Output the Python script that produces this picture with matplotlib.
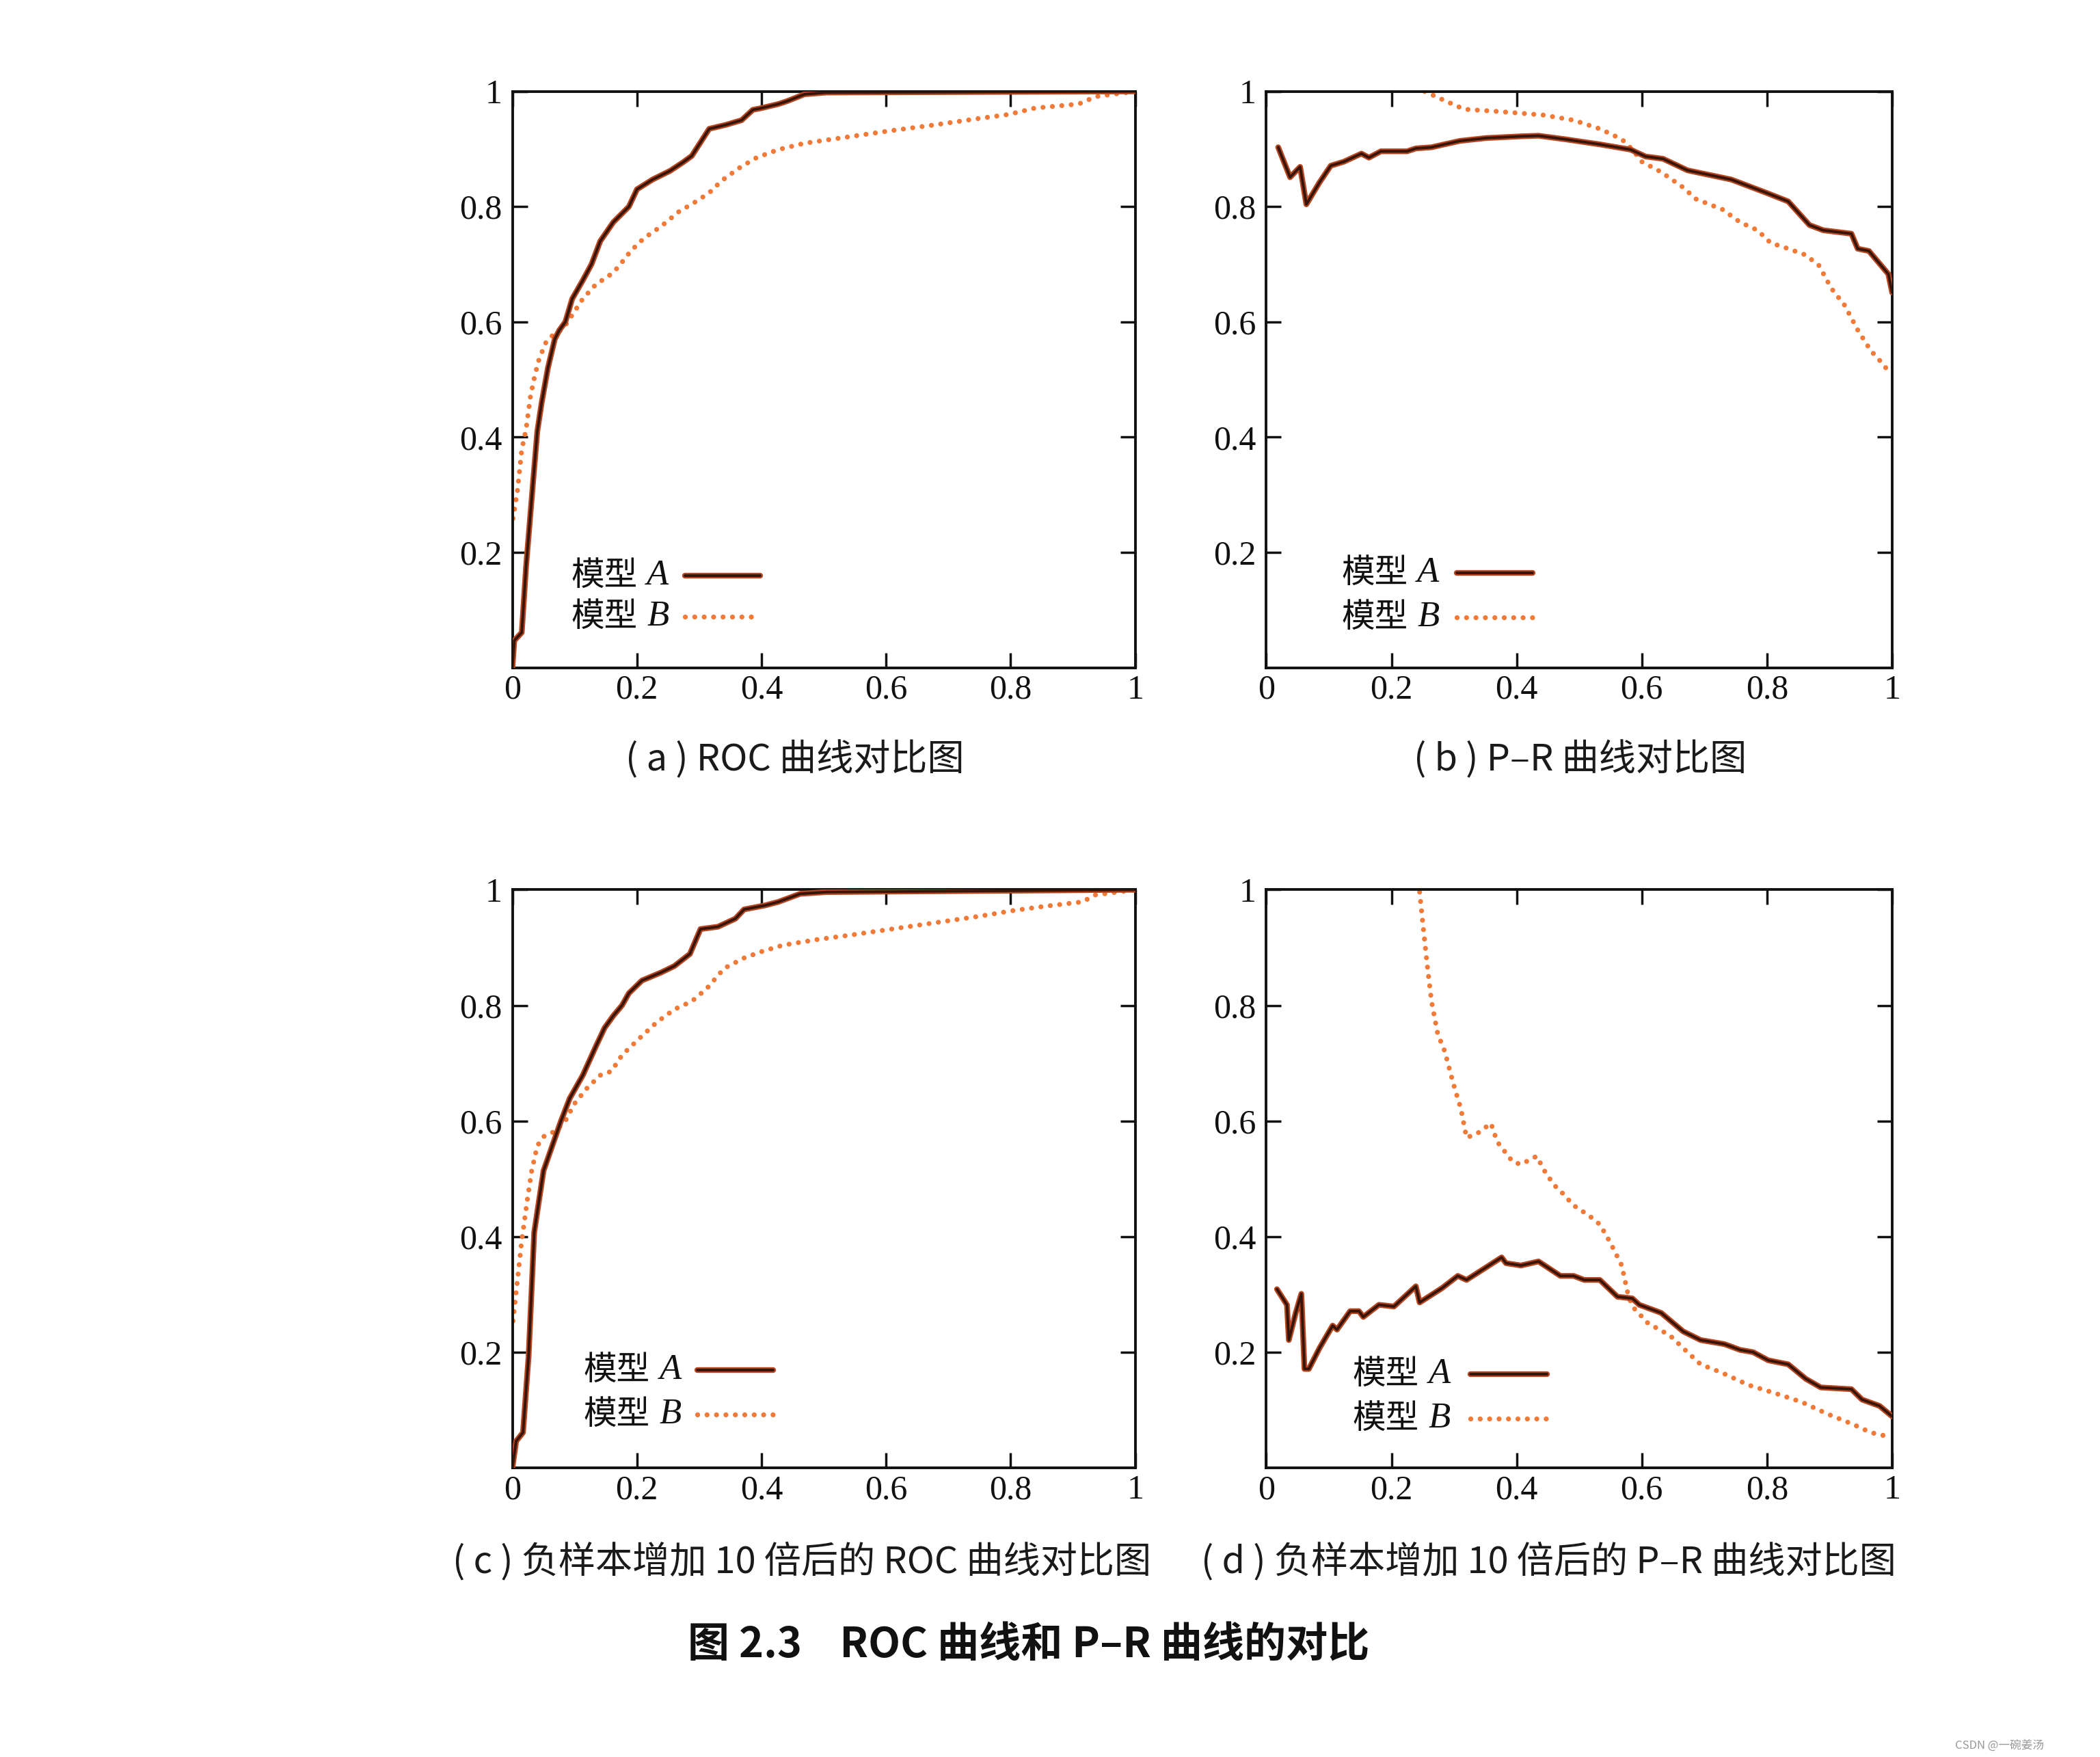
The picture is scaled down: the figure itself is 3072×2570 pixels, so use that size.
import numpy as np
import matplotlib
matplotlib.use("Agg")
import matplotlib.pyplot as plt

### DATA ###
# (a) ROC
roc_a_A_x = [0, 0.003, 0.015, 0.022, 0.033, 0.04, 0.047, 0.057, 0.068, 0.075, 0.085, 0.096, 0.113, 0.127, 0.141,
             0.162, 0.187, 0.2, 0.225, 0.253, 0.274, 0.288, 0.316, 0.343, 0.368, 0.386, 0.4, 0.427, 0.441, 0.469,
             0.504, 1.0]
roc_a_A_y = [0, 0.047, 0.061, 0.176, 0.32, 0.41, 0.46, 0.52, 0.57, 0.585, 0.6, 0.64, 0.672, 0.70, 0.74,
             0.773, 0.80, 0.83, 0.847, 0.862, 0.877, 0.888, 0.935, 0.942, 0.95, 0.968, 0.971, 0.978, 0.983, 0.995,
             0.998, 1.0]
roc_a_B_x = [0.001, 0.008, 0.015, 0.022, 0.029, 0.036, 0.043, 0.054, 0.064, 0.075, 0.085, 0.096, 0.113, 0.134,
             0.155, 0.169, 0.19, 0.211, 0.239, 0.267, 0.295, 0.316, 0.336, 0.364, 0.392, 0.427, 0.469, 0.539,
             0.609, 0.679, 0.749, 0.797, 0.839, 0.909, 0.937, 1.0]
roc_a_B_y = [0.259, 0.306, 0.378, 0.414, 0.471, 0.507, 0.536, 0.565, 0.576, 0.583, 0.594, 0.612, 0.64, 0.665,
             0.68, 0.694, 0.723, 0.745, 0.766, 0.791, 0.809, 0.824, 0.845, 0.867, 0.885, 0.899, 0.91, 0.921,
             0.932, 0.942, 0.953, 0.96, 0.971, 0.978, 0.991, 1.0]

# (b) P-R
pr_b_A_x = [0.019, 0.038, 0.054, 0.064, 0.085, 0.103, 0.124, 0.152, 0.164, 0.183, 0.225, 0.239, 0.264, 0.309,
            0.351, 0.407, 0.435, 0.477, 0.533, 0.582, 0.606, 0.634, 0.673, 0.743, 0.799, 0.834, 0.868, 0.89,
            0.935, 0.945, 0.963, 0.994, 1.0]
pr_b_A_y = [0.903, 0.851, 0.869, 0.804, 0.842, 0.871, 0.878, 0.892, 0.885, 0.896, 0.896, 0.901, 0.903, 0.914,
            0.919, 0.922, 0.923, 0.917, 0.908, 0.899, 0.887, 0.883, 0.863, 0.847, 0.824, 0.809, 0.768, 0.759,
            0.753, 0.727, 0.723, 0.683, 0.651]
pr_b_B_x = [0.253, 0.281, 0.316, 0.372, 0.442, 0.491, 0.533, 0.568, 0.585, 0.6, 0.631, 0.664, 0.687, 0.729,
            0.757, 0.785, 0.806, 0.834, 0.862, 0.883, 0.903, 0.924, 0.945, 0.966, 0.987, 0.998]
pr_b_B_y = [1.0, 0.986, 0.969, 0.965, 0.959, 0.95, 0.935, 0.917, 0.899, 0.878, 0.86, 0.835, 0.813, 0.795,
            0.773, 0.759, 0.737, 0.727, 0.716, 0.698, 0.658, 0.629, 0.586, 0.55, 0.525, 0.507]

# (c) ROC, 10x negatives
roc_c_A_x = [0, 0.006, 0.017, 0.026, 0.035, 0.04, 0.05, 0.064, 0.078, 0.092, 0.113, 0.134, 0.148, 0.162, 0.176,
             0.187, 0.208, 0.239, 0.26, 0.285, 0.302, 0.33, 0.358, 0.372, 0.406, 0.427, 0.462, 0.504, 1.0]
roc_c_A_y = [0, 0.046, 0.061, 0.193, 0.407, 0.443, 0.514, 0.557, 0.6, 0.639, 0.679, 0.729, 0.761, 0.782, 0.8,
             0.821, 0.843, 0.857, 0.868, 0.889, 0.932, 0.936, 0.95, 0.966, 0.973, 0.979, 0.993, 0.996, 1.0]
roc_c_B_x = [0.001, 0.007, 0.015, 0.024, 0.031, 0.04, 0.05, 0.068, 0.085, 0.099, 0.12, 0.141, 0.159, 0.176,
             0.204, 0.232, 0.26, 0.288, 0.312, 0.34, 0.372, 0.4, 0.434, 0.49, 0.539, 0.609, 0.679, 0.749, 0.804,
             0.852, 0.915, 0.936, 1.0]
roc_c_B_y = [0.254, 0.314, 0.393, 0.464, 0.514, 0.557, 0.573, 0.582, 0.6, 0.629, 0.657, 0.679, 0.686, 0.714,
             0.743, 0.771, 0.793, 0.807, 0.829, 0.864, 0.882, 0.893, 0.904, 0.914, 0.921, 0.932, 0.943, 0.954,
             0.964, 0.971, 0.979, 0.991, 1.0]

# (d) P-R, 10x negatives
pr_d_A_x = [0.017, 0.033, 0.036, 0.047, 0.056, 0.061, 0.068, 0.085, 0.106, 0.113, 0.134, 0.148, 0.155, 0.18,
            0.204, 0.239, 0.245, 0.281, 0.306, 0.32, 0.376, 0.383, 0.407, 0.435, 0.47, 0.491, 0.508, 0.533,
            0.561, 0.585, 0.596, 0.631, 0.666, 0.694, 0.732, 0.757, 0.778, 0.802, 0.834, 0.862, 0.886, 0.935,
            0.952, 0.98, 1.0]
pr_d_A_y = [0.309, 0.282, 0.221, 0.268, 0.301, 0.171, 0.171, 0.207, 0.246, 0.239, 0.271, 0.271, 0.261, 0.282,
            0.279, 0.314, 0.286, 0.311, 0.332, 0.325, 0.364, 0.354, 0.35, 0.357, 0.332, 0.332, 0.325, 0.325,
            0.296, 0.293, 0.282, 0.268, 0.236, 0.221, 0.214, 0.204, 0.2, 0.186, 0.179, 0.154, 0.139, 0.136,
            0.118, 0.107, 0.089]
pr_d_B_x = [0.245, 0.25, 0.257, 0.264, 0.274, 0.285, 0.299, 0.311, 0.32, 0.338, 0.359, 0.369, 0.394, 0.407,
            0.432, 0.446, 0.46, 0.47, 0.491, 0.516, 0.533, 0.55, 0.568, 0.578, 0.585, 0.61, 0.645, 0.673, 0.694,
            0.729, 0.771, 0.813, 0.855, 0.897, 0.938, 0.966, 0.994]
pr_d_B_y = [0.996, 0.943, 0.871, 0.807, 0.75, 0.721, 0.664, 0.621, 0.571, 0.579, 0.596, 0.564, 0.529, 0.525,
            0.539, 0.511, 0.489, 0.479, 0.454, 0.436, 0.421, 0.389, 0.35, 0.3, 0.279, 0.25, 0.229, 0.2, 0.179,
            0.164, 0.143, 0.129, 0.114, 0.093, 0.075, 0.061, 0.054]

x_ticks = [0, 0.2, 0.4, 0.6, 0.8, 1]
x_tick_labels = ['0', '0.2', '0.4', '0.6', '0.8', '1']
y_ticks = [0.2, 0.4, 0.6, 0.8, 1]
y_tick_labels = ['0.2', '0.4', '0.6', '0.8', '1']

captions = ['( a ) ROC 曲线对比图', '( b ) P–R 曲线对比图',
            '( c ) 负样本增加 10 倍后的 ROC 曲线对比图', '( d ) 负样本增加 10 倍后的 P–R 曲线对比图']
title = '图 2.3    ROC 曲线和 P–R 曲线的对比'
legend_names = ['模型', '模型']
legend_letters = ['A', 'B']

COLOR_A_EDGE = '#b44622'
COLOR_A_CORE = '#361508'
COLOR_B = '#f07a38'
CJK = ['Noto Sans CJK SC', 'DejaVu Sans']
SERIF = ['Liberation Serif', 'DejaVu Serif']
DOTS = (0, (0.01, 1.9))


def plot_A(ax, x, y, **kw):
    ax.plot(x, y, color=COLOR_A_EDGE, lw=6.0, solid_capstyle='round', solid_joinstyle='round', zorder=3, **kw)
    ax.plot(x, y, color=COLOR_A_CORE, lw=2.8, solid_capstyle='round', solid_joinstyle='round', zorder=4, **kw)


def plot_B(ax, x, y, **kw):
    ax.plot(x, y, color=COLOR_B, lw=5.2, linestyle=DOTS, dash_capstyle='round', zorder=2, **kw)


def draw_legend(ax, tx, lx0, lx1, rows, letter_dx):
    # text on the left, line sample on the right (like the book figure)
    for i, ry in enumerate(rows):
        ax.text(tx, ry, legend_names[i], transform=ax.transAxes, family=CJK, fontsize=35,
                va='center', ha='left', color='#111111')
        ax.text(tx + letter_dx, ry, legend_letters[i], transform=ax.transAxes, family=SERIF,
                style='italic', fontsize=38, va='center', ha='left', color='#111111')
    plot_A(ax, [lx0, lx1], [rows[0], rows[0]], transform=ax.transAxes, clip_on=False)
    plot_B(ax, [lx0, lx1], [rows[1], rows[1]], transform=ax.transAxes, clip_on=False)


def draw_panel(ax, ax_, ay, bx, by, leg):
    plot_A(ax, ax_, ay)
    plot_B(ax, bx, by)
    draw_legend(ax, *leg)

    ax.set_xlim(0, 1)
    ax.set_ylim(0, 1)
    ax.set_xticks(x_ticks)
    ax.set_xticklabels(x_tick_labels, family=SERIF, fontsize=36)
    ax.set_yticks(y_ticks)
    ax.set_yticklabels(y_tick_labels, family=SERIF, fontsize=36)
    ax.tick_params(direction='in', length=16, width=2.5, top=True, right=True, colors='#111111')
    ax.tick_params(axis='y', pad=11)
    ax.tick_params(axis='x', pad=7)
    for s in ax.spines.values():
        s.set_linewidth(2.8)
        s.set_color('#111111')


fig = plt.figure(figsize=(30.72, 25.70), dpi=100)

axa = fig.add_axes([0.244, 0.620, 0.2966, 0.328])
axb = fig.add_axes([0.603, 0.620, 0.2980, 0.328])
axc = fig.add_axes([0.244, 0.1646, 0.2966, 0.329])
axd = fig.add_axes([0.603, 0.1646, 0.2980, 0.329])

draw_panel(axa, roc_a_A_x, roc_a_A_y, roc_a_B_x, roc_a_B_y, (0.094, 0.277, 0.398, (0.160, 0.088), 0.122))
draw_panel(axb, pr_b_A_x, pr_b_A_y, pr_b_B_x, pr_b_B_y, (0.120, 0.304, 0.426, (0.164, 0.087), 0.121))
draw_panel(axc, roc_c_A_x, roc_c_A_y, roc_c_B_x, roc_c_B_y, (0.114, 0.297, 0.419, (0.169, 0.092), 0.122))
draw_panel(axd, pr_d_A_x, pr_d_A_y, pr_d_B_x, pr_d_B_y, (0.138, 0.326, 0.448, (0.162, 0.085), 0.121))

# captions
cap_pos = [(1163, 1111), (2312, 1111), (1173, 2284), (2265, 2284)]
for (cx, cy), cap in zip(cap_pos, captions):
    fig.text(cx / 3072, 1 - cy / 2570, cap, family=CJK, fontsize=39, ha='center', va='center',
             color='#1a1a1a')
fig.text(1505 / 3072, 1 - 2406 / 2570, title, family=CJK, fontsize=44, fontweight='bold', ha='center',
         va='center', color='#111111')

fig.text(2990 / 3072, 1 - 2553 / 2570, 'CSDN @一碗姜汤', family=CJK, fontsize=12, ha='right', va='center',
         color='#999999')

fig.savefig('out.png', dpi=100, facecolor='white')
